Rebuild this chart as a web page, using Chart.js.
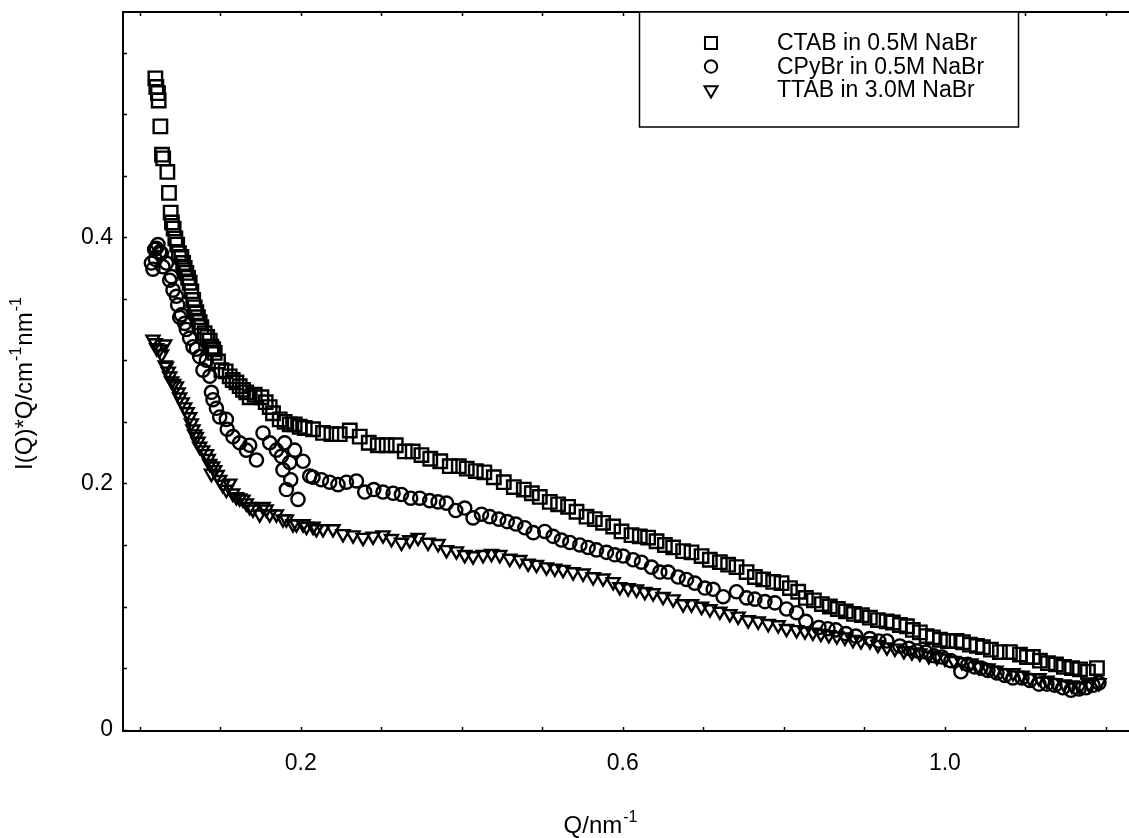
<!DOCTYPE html>
<html>
<head>
<meta charset="utf-8">
<title>I(Q)*Q vs Q</title>
<script src="https://cdn.jsdelivr.net/npm/chart.js@4.4.1/dist/chart.umd.min.js"></script>
<style>
  html, body { margin: 0; padding: 0; background: #fff; overflow: hidden; }
  #wrap { width: 1129px; height: 838px; }
</style>
</head>
<body>
<div id="wrap"><canvas id="kratky" width="1129" height="838"></canvas></div>
<script>
const FONT = '"Liberation Sans", Arial, Helvetica, sans-serif'

const seriesLabels = ['CTAB in 0.5M NaBr', 'CPyBr in 0.5M NaBr', 'TTAB in 3.0M NaBr']

// labelled ticks and the small inward tick marks
const xTicks = [0.2, 0.6, 1.0]
const yTicks = [0, 0.2, 0.4]
const xMinor = [0, 0.1, 0.2, 0.3, 0.4, 0.5, 0.6, 0.7, 0.8, 0.9, 1.0, 1.1, 1.2]
const yMinor = [0, 0.05, 0.1, 0.15, 0.2, 0.25, 0.3, 0.35, 0.4, 0.45, 0.5, 0.55]

/* ---- CTAB in 0.5M NaBr ---- */
const ctabQ = [
  0.0195, 0.0207, 0.0227, 0.0236, 0.0257, 0.0277, 0.0292, 0.0344, 0.0364, 0.0385,
  0.0401, 0.0422, 0.0443, 0.0466, 0.0488, 0.0518, 0.054, 0.0559, 0.058, 0.0602,
  0.0621, 0.0642, 0.0665, 0.0683, 0.0704, 0.0724, 0.0745, 0.0766, 0.0807, 0.0839,
  0.087, 0.0891, 0.0913, 0.0932, 0.0973, 0.1015, 0.1068, 0.1118, 0.1155, 0.1201,
  0.1242, 0.1283, 0.1323, 0.1366, 0.1429, 0.1512, 0.1565, 0.1615, 0.1656, 0.1739,
  0.1801, 0.1863, 0.1925, 0.1988, 0.205, 0.2153, 0.2277, 0.2381, 0.2484, 0.2609,
  0.2733, 0.2845, 0.2957, 0.3068, 0.318, 0.3292, 0.3391, 0.3499, 0.3609, 0.3733,
  0.3851, 0.3963, 0.4062, 0.4174, 0.428, 0.4398, 0.4522, 0.4646, 0.477, 0.487,
  0.4969, 0.5093, 0.5196, 0.532, 0.5425, 0.5549, 0.5652, 0.5755, 0.588, 0.5984,
  0.6108, 0.6211, 0.6314, 0.6419, 0.6522, 0.6625, 0.6749, 0.6853, 0.6978, 0.7081,
  0.7205, 0.7308, 0.7412, 0.7537, 0.764, 0.7743, 0.7867, 0.7971, 0.8075, 0.8178,
  0.8273, 0.8373, 0.8472, 0.8571, 0.8671, 0.877, 0.887, 0.8969, 0.9068, 0.9168,
  0.9276, 0.9354, 0.9441, 0.9528, 0.9602, 0.9689, 0.9773, 0.9851, 0.9938, 1.0037,
  1.0145, 1.0224, 1.0311, 1.0398, 1.0472, 1.0571, 1.0683, 1.0807, 1.0932, 1.1019,
  1.1093, 1.118, 1.1279, 1.1379, 1.1478, 1.1578, 1.1677, 1.1776, 1.1888
]
const ctabI = [
  0.529, 0.522, 0.517, 0.511, 0.490, 0.467, 0.464, 0.453, 0.436, 0.420,
  0.412, 0.407, 0.399, 0.394, 0.387, 0.384, 0.379, 0.375, 0.371, 0.367,
  0.363, 0.356, 0.349, 0.343, 0.339, 0.335, 0.331, 0.327, 0.322, 0.319,
  0.316, 0.311, 0.309, 0.306, 0.299, 0.292, 0.291, 0.287, 0.284, 0.282,
  0.279, 0.276, 0.274, 0.270, 0.272, 0.270, 0.266, 0.262, 0.257, 0.252,
  0.250, 0.248, 0.248, 0.246, 0.245, 0.244, 0.241, 0.240, 0.240, 0.243,
  0.238, 0.233, 0.231, 0.231, 0.231, 0.226, 0.226, 0.223, 0.220, 0.218,
  0.214, 0.214, 0.212, 0.210, 0.209, 0.205, 0.201, 0.197, 0.195, 0.192,
  0.189, 0.185, 0.183, 0.181, 0.177, 0.173, 0.171, 0.168, 0.165, 0.161,
  0.158, 0.157, 0.156, 0.153, 0.150, 0.148, 0.145, 0.144, 0.141, 0.138,
  0.136, 0.134, 0.132, 0.128, 0.124, 0.122, 0.120, 0.119, 0.115, 0.112,
  0.107, 0.105, 0.102, 0.100, 0.098, 0.096, 0.094, 0.093, 0.091, 0.089,
  0.088, 0.087, 0.085, 0.084, 0.081, 0.079, 0.076, 0.075, 0.073, 0.072,
  0.072, 0.071, 0.069, 0.068, 0.067, 0.065, 0.063, 0.063, 0.061, 0.059,
  0.059, 0.056, 0.054, 0.053, 0.051, 0.050, 0.049, 0.047, 0.050
]

/* ---- CPyBr in 0.5M NaBr ---- */
const cpybrQ = [
  0.0145, 0.0165, 0.0186, 0.0196, 0.0207, 0.0227, 0.0248, 0.027, 0.0289, 0.0332,
  0.0373, 0.0394, 0.0414, 0.0456, 0.0472, 0.0497, 0.0518, 0.0559, 0.058, 0.0621,
  0.0662, 0.0704, 0.0745, 0.0786, 0.0829, 0.087, 0.0891, 0.0911, 0.0953, 0.0994,
  0.1077, 0.1087, 0.1159, 0.1242, 0.1325, 0.1366, 0.145, 0.1532, 0.1615, 0.1698,
  0.176, 0.178, 0.1801, 0.1822, 0.1863, 0.1876, 0.1925, 0.1966, 0.2029, 0.2112,
  0.2153, 0.2257, 0.236, 0.2463, 0.2568, 0.2692, 0.2795, 0.2907, 0.3022, 0.3147,
  0.3251, 0.3366, 0.3478, 0.3602, 0.3706, 0.381, 0.3925, 0.4037, 0.414, 0.4245,
  0.4348, 0.446, 0.4565, 0.4671, 0.4783, 0.4888, 0.5031, 0.5134, 0.5238, 0.5342,
  0.5466, 0.5569, 0.5673, 0.5797, 0.59, 0.6004, 0.6128, 0.6232, 0.6356, 0.646,
  0.6563, 0.6687, 0.6791, 0.6894, 0.7019, 0.7122, 0.7246, 0.7412, 0.7537, 0.764,
  0.7764, 0.7888, 0.8033, 0.8158, 0.8273, 0.8435, 0.8547, 0.8646, 0.877, 0.8894,
  0.9068, 0.918, 0.9279, 0.9441, 0.9553, 0.9652, 0.9764, 0.9863, 0.9963, 1.0075,
  1.0199, 1.0286, 1.0366, 1.0447, 1.0534, 1.0646, 1.0745, 1.0845, 1.0957, 1.1056,
  1.1168, 1.1267, 1.1366, 1.1466, 1.1565, 1.1665, 1.1752, 1.1839, 1.1913
]
const cpybrI = [
  0.379, 0.374, 0.390, 0.382, 0.391, 0.394, 0.388, 0.387, 0.376, 0.379,
  0.365, 0.368, 0.357, 0.352, 0.345, 0.335, 0.337, 0.330, 0.325, 0.318,
  0.311, 0.309, 0.303, 0.292, 0.300, 0.287, 0.274, 0.268, 0.261, 0.254,
  0.252, 0.244, 0.238, 0.233, 0.227, 0.231, 0.219, 0.241, 0.233, 0.227,
  0.222, 0.211, 0.233, 0.195, 0.217, 0.203, 0.227, 0.187, 0.218, 0.206,
  0.205, 0.203, 0.201, 0.199, 0.201, 0.202, 0.193, 0.195, 0.193, 0.192,
  0.191, 0.188, 0.188, 0.186, 0.185, 0.184, 0.178, 0.180, 0.172, 0.175,
  0.173, 0.171, 0.169, 0.167, 0.164, 0.160, 0.161, 0.157, 0.154, 0.152,
  0.150, 0.148, 0.146, 0.144, 0.142, 0.141, 0.138, 0.136, 0.132, 0.128,
  0.128, 0.124, 0.122, 0.119, 0.115, 0.114, 0.108, 0.112, 0.107, 0.106,
  0.104, 0.103, 0.098, 0.095, 0.088, 0.083, 0.082, 0.081, 0.078, 0.076,
  0.074, 0.072, 0.072, 0.068, 0.066, 0.064, 0.063, 0.060, 0.059, 0.056,
  0.047, 0.053, 0.051, 0.050, 0.048, 0.046, 0.044, 0.042, 0.042, 0.040,
  0.037, 0.037, 0.036, 0.034, 0.032, 0.033, 0.034, 0.036, 0.038
]

/* ---- TTAB in 3.0M NaBr ---- */
const ttabQ = [
  0.0165, 0.0193, 0.0211, 0.0248, 0.0273, 0.031, 0.0317, 0.0332, 0.0354, 0.0373,
  0.0398, 0.0422, 0.0456, 0.0478, 0.0497, 0.0528, 0.0559, 0.059, 0.0621, 0.0642,
  0.0662, 0.0683, 0.0704, 0.0724, 0.0745, 0.0783, 0.0829, 0.0851, 0.087, 0.0891,
  0.0907, 0.0932, 0.0963, 0.0994, 0.1031, 0.1077, 0.1118, 0.1155, 0.1201, 0.1242,
  0.1283, 0.1325, 0.1366, 0.1407, 0.1491, 0.1532, 0.1571, 0.1615, 0.1698, 0.178,
  0.1822, 0.1904, 0.1947, 0.2029, 0.2071, 0.2153, 0.2195, 0.2277, 0.2401, 0.2525,
  0.265, 0.2774, 0.2898, 0.3022, 0.3127, 0.3251, 0.3354, 0.3457, 0.3581, 0.3706,
  0.381, 0.3934, 0.4037, 0.414, 0.4265, 0.4369, 0.4472, 0.4596, 0.472, 0.4824,
  0.4928, 0.5052, 0.5155, 0.5258, 0.5383, 0.5507, 0.5631, 0.5755, 0.588, 0.5963,
  0.6066, 0.617, 0.6273, 0.6376, 0.65, 0.6625, 0.6749, 0.6853, 0.6978, 0.7081,
  0.7205, 0.7329, 0.7432, 0.7557, 0.7681, 0.7805, 0.7929, 0.8033, 0.8158, 0.8261,
  0.836, 0.846, 0.8559, 0.8658, 0.8758, 0.8857, 0.8957, 0.9068, 0.9168, 0.928,
  0.9379, 0.9491, 0.959, 0.9689, 0.9801, 0.99, 1.0, 1.0112, 1.0211, 1.0323,
  1.0422, 1.0534, 1.0634, 1.0745, 1.0845, 1.0957, 1.1056, 1.1168, 1.1267, 1.1366,
  1.1478, 1.1578, 1.1677, 1.1789, 1.1913
]
const ttabI = [
  0.317, 0.314, 0.310, 0.309, 0.305, 0.313, 0.296, 0.295, 0.291, 0.287,
  0.283, 0.281, 0.279, 0.274, 0.270, 0.266, 0.262, 0.258, 0.254, 0.249,
  0.244, 0.240, 0.238, 0.234, 0.230, 0.227, 0.224, 0.220, 0.216, 0.208,
  0.214, 0.211, 0.207, 0.203, 0.199, 0.195, 0.200, 0.192, 0.189, 0.188,
  0.187, 0.184, 0.181, 0.179, 0.175, 0.181, 0.179, 0.175, 0.175, 0.171,
  0.171, 0.167, 0.167, 0.167, 0.165, 0.165, 0.163, 0.163, 0.163, 0.159,
  0.158, 0.156, 0.157, 0.158, 0.155, 0.152, 0.154, 0.156, 0.152, 0.151,
  0.146, 0.145, 0.142, 0.141, 0.142, 0.143, 0.142, 0.139, 0.138, 0.135,
  0.134, 0.132, 0.131, 0.130, 0.128, 0.127, 0.124, 0.123, 0.120, 0.116,
  0.115, 0.114, 0.112, 0.111, 0.108, 0.106, 0.102, 0.102, 0.100, 0.098,
  0.096, 0.094, 0.092, 0.089, 0.088, 0.086, 0.085, 0.082, 0.081, 0.080,
  0.079, 0.078, 0.077, 0.076, 0.075, 0.073, 0.072, 0.072, 0.069, 0.067,
  0.066, 0.064, 0.063, 0.062, 0.060, 0.059, 0.058, 0.056, 0.055, 0.054,
  0.051, 0.050, 0.048, 0.046, 0.046, 0.044, 0.042, 0.042, 0.040, 0.038,
  0.037, 0.036, 0.035, 0.037, 0.038
]

function toPoints(qs, vals) {
  return qs.map((q, i) => ({ x: q, y: vals[i] }))
}

// text with raised "-1" style superscripts; parts = [[text, isSup], ...]
function drawRichText(ctx, parts, x, y, size) {
  const supSize = Math.round(size * 0.68)
  const widths = parts.map(([t, sup]) => {
    ctx.font = `${sup ? supSize : size}px ${FONT}`
    return ctx.measureText(t).width + (sup ? 2 : 0)
  })
  let cx = x - widths.reduce((a, b) => a + b, 0) / 2
  ctx.textAlign = 'left'
  ctx.textBaseline = 'alphabetic'
  parts.forEach(([t, sup], i) => {
    ctx.font = `${sup ? supSize : size}px ${FONT}`
    ctx.fillText(t, sup ? cx + 1 : cx, sup ? y - size * 0.45 : y)
    cx += widths[i]
  })
}

const framePlugin = {
  id: 'frame',
  afterDraw(chart) {
    const { ctx, chartArea: a, scales: { x, y } } = chart
    ctx.save()
    ctx.strokeStyle = '#000'
    ctx.fillStyle = '#000'

    // axes: left, bottom and top, no right side
    ctx.lineWidth = 2
    ctx.beginPath()
    ctx.moveTo(a.right, a.top)
    ctx.lineTo(a.left, a.top)
    ctx.lineTo(a.left, a.bottom)
    ctx.lineTo(a.right, a.bottom)
    ctx.stroke()

    // inward tick marks
    ctx.lineWidth = 1.5
    ctx.beginPath()
    xMinor.forEach(v => {
      const px = Math.round(x.getPixelForValue(v)) + 0.5
      ctx.moveTo(px, a.bottom); ctx.lineTo(px, a.bottom - 4)
      ctx.moveTo(px, a.top); ctx.lineTo(px, a.top + 4)
    })
    yMinor.forEach(v => {
      const py = Math.round(y.getPixelForValue(v)) + 0.5
      ctx.moveTo(a.left, py); ctx.lineTo(a.left + 4, py)
    })
    ctx.stroke()

    // axis titles
    drawRichText(ctx, [['Q/nm', false], ['-1', true]], 601, 833, 24)
    ctx.save()
    ctx.translate(32, 383)
    ctx.rotate(-Math.PI / 2)
    drawRichText(ctx, [['I(Q)*Q/cm', false], ['-1', true], ['nm', false], ['-1', true]], 0, 0, 24)
    ctx.restore()

    // legend box
    const box = { left: 639, top: a.top, right: 1018, bottom: 127 }
    ctx.fillStyle = '#fff'
    ctx.fillRect(box.left, box.top, box.right - box.left, box.bottom - box.top)
    ctx.lineWidth = 1.5
    ctx.strokeRect(box.left + 0.5, box.top, box.right - box.left, box.bottom - box.top)
    const rows = [43, 66.5, 90]
    chart.data.datasets.forEach((ds, i) => {
      ctx.fillStyle = 'rgba(0,0,0,0)'
      ctx.strokeStyle = '#000'
      ctx.lineWidth = 2
      Chart.helpers.drawPoint(ctx, {
        pointStyle: ds.pointStyle,
        rotation: ds.pointRotation || 0,
        radius: ds.legendRadius,
        borderWidth: 2
      }, 711, rows[i])
      ctx.fillStyle = '#000'
      ctx.font = `23px ${FONT}`
      ctx.textAlign = 'left'
      ctx.textBaseline = 'middle'
      ctx.fillText(ds.label, 777, rows[i] + 1)
    })
    ctx.restore()
  }
}

const marker = {
  borderColor: '#000',
  backgroundColor: 'rgba(0,0,0,0)',
  borderWidth: 2.4,
  showLine: false
}

new Chart(document.getElementById('kratky'), {
  type: 'scatter',
  data: {
    datasets: [
      { ...marker, label: seriesLabels[0], data: toPoints(ctabQ, ctabI), pointStyle: 'rect', pointRadius: 9.5, legendRadius: 8.5 },
      { ...marker, label: seriesLabels[1], data: toPoints(cpybrQ, cpybrI), pointStyle: 'circle', pointRadius: 6.6, legendRadius: 6.2 },
      { ...marker, label: seriesLabels[2], data: toPoints(ttabQ, ttabI), pointStyle: 'triangle', pointRotation: 180, pointRadius: 7.5, legendRadius: 7.5 }
    ]
  },
  options: {
    responsive: false,
    animation: false,
    events: [],
    layout: { autoPadding: false, padding: { top: 12, right: 0, bottom: 0, left: 0 } },
    plugins: {
      legend: { display: false },
      tooltip: { enabled: false }
    },
    scales: {
      x: {
        type: 'linear',
        min: -0.0207,
        max: 1.2286,
        grid: { display: false, drawTicks: false },
        border: { display: false },
        afterFit: (s) => {
          s.height = 107
          s.paddingLeft = 0
          s.paddingRight = 0
        },
        afterBuildTicks: (s) => { s.ticks = xTicks.map(v => ({ value: v })) },
        ticks: {
          color: '#000',
          font: { family: FONT, size: 23 },
          padding: 19,
          maxRotation: 0,
          autoSkip: false,
          callback: (v) => v.toFixed(1)
        }
      },
      y: {
        type: 'linear',
        min: -0.0011,
        max: 0.5829,
        grid: { display: false, drawTicks: false },
        border: { display: false },
        afterFit: (s) => {
          s.width = 123
          s.paddingTop = 0
          s.paddingBottom = 0
        },
        afterBuildTicks: (s) => { s.ticks = yTicks.map(v => ({ value: v })) },
        ticks: {
          color: '#000',
          font: { family: FONT, size: 23 },
          padding: 10,
          autoSkip: false,
          callback: (v) => v === 0 ? '0' : v.toFixed(1)
        }
      }
    }
  },
  plugins: [framePlugin]
})
</script>
</body>
</html>
